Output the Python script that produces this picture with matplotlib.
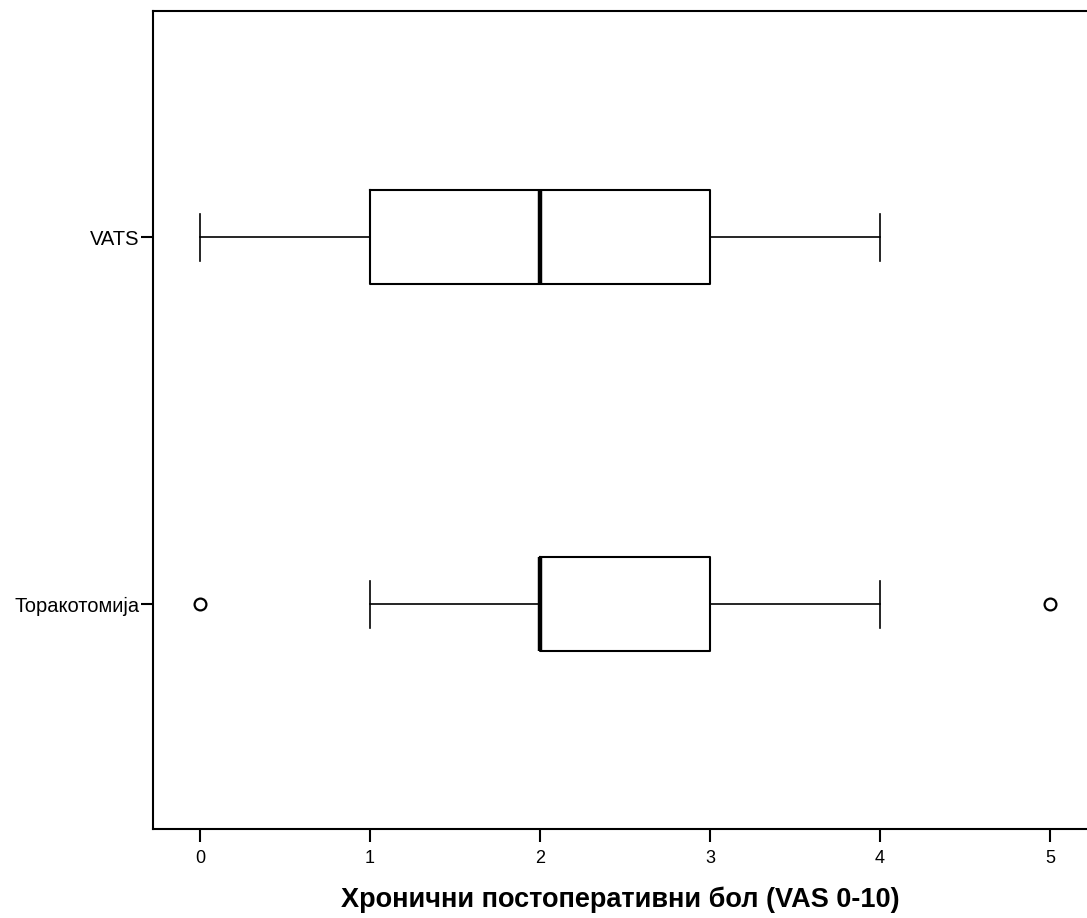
import matplotlib
matplotlib.use("Agg")
import matplotlib.pyplot as plt

plt.rcParams['font.family'] = ['Liberation Sans', 'DejaVu Sans']

# Data (summary statistics)
groups = ["VATS", "Торакотомија"]
whisker_low = [0, 1]
q1 = [1, 2]
median = [2, 2]
q3 = [3, 3]
whisker_high = [4, 4]
outliers = [[], [0, 5]]
x_ticks = [0, 1, 2, 3, 4, 5]
x_label = "Хронични постоперативни бол (VAS 0-10)"

W, H = 1087, 918
fig = plt.figure(figsize=(W / 100, H / 100), dpi=100)
left_px, right_px, top_px, bottom_px = 153, 1087, 11, 829
ax = fig.add_axes([left_px / W, 1 - bottom_px / H,
                   (right_px - left_px) / W, (bottom_px - top_px) / H])

stats = []
for i, g in enumerate(groups):
    stats.append(dict(label=g, whislo=whisker_low[i], q1=q1[i], med=median[i],
                      q3=q3[i], whishi=whisker_high[i], fliers=outliers[i]))

positions = list(range(1, len(groups) + 1))
ax.bxp(stats, positions=positions, vert=False, widths=0.256,
       boxprops=dict(color='black', linewidth=1.5),
       medianprops=dict(color='black', linewidth=3.2),
       whiskerprops=dict(color='black', linewidth=1.2),
       capprops=dict(color='black', linewidth=1.2),
       flierprops=dict(marker='o', markerfacecolor='white', markeredgecolor='black',
                       markersize=8.5, markeredgewidth=1.6),
       capwidths=0.128)

# x scale: 0 at px 200, 170 px per unit
x0_px, unit_px = 200, 170
ax.set_xlim((left_px - x0_px) / unit_px, (right_px - x0_px) / unit_px)
ax.set_ylim(2.613, 0.384)
ax.set_xticks(x_ticks)
ax.set_xticklabels([str(t) for t in x_ticks])
ax.set_yticks(positions)
ax.set_yticklabels(groups)

ax.spines['right'].set_visible(False)
for s in ['left', 'top', 'bottom']:
    ax.spines[s].set_linewidth(1.5)
    ax.spines[s].set_color('black')

ax.tick_params(axis='x', direction='out', length=9, width=1.5, labelsize=13, pad=6)
ax.tick_params(axis='y', direction='out', length=9, width=1.5, labelsize=14.5, pad=0.5)

ax.set_xlabel(x_label, fontsize=19.5, fontweight='bold', labelpad=14)

fig.savefig("out.png", dpi=100)
